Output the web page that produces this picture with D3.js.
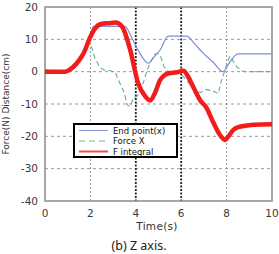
<!DOCTYPE html>
<html><head><meta charset="utf-8">
<script src="https://cdn.jsdelivr.net/npm/d3@7"></script>
<style>html,body{margin:0;padding:0;background:#fff;}svg{display:block;}</style>
</head><body>
<svg id="c" width="279" height="254"></svg>
<script>
const xTicks = [0, 2, 4, 6, 8, 10];
const yTicks = [20, 10, 0, -10, -20, -30, -40];
const legendLabels = ["End point(x)", "Force X", "F integral"];

const endTime = [0, 1.0, 1.3, 1.6, 1.9, 2.15, 2.4, 3.0, 3.52, 3.8, 4.1, 4.55, 4.8, 5.07, 5.43, 5.7, 6.24, 6.6, 7.0, 7.4, 7.85, 8.1, 8.5, 10];
const endVal  = [0, 0, 1, 4, 9, 14, 14, 14, 14, 10.8, 6.7, 2.6, 4.5, 6.7, 11, 11, 11, 8.5, 5.5, 3, 0, 2.5, 5.5, 5.5];

const forceTime = [0, 1.0, 1.5, 1.9, 2.05, 2.2, 2.4, 2.6, 2.9, 3.1, 3.3, 3.5, 3.62, 3.75, 3.9, 4.05, 4.2, 4.35, 4.5, 4.63, 4.8, 4.95, 5.1, 5.25, 5.45, 5.8, 5.95, 6.24, 6.53, 6.83, 7.1, 7.4, 7.63, 7.78, 7.93, 8.07, 8.15, 8.3, 8.45, 8.65, 8.8, 10];
const forceVal  = [0.5, 0, 3, 9, 7.7, 4.1, 1.5, 0.5, 0.3, -0.3, -3.6, -6.7, -10.3, -10.8, -8, -7.7, -6, -3, 0.5, 2.6, 5.2, 5.7, 4.6, 1.5, 0, 0, -0.5, -2.6, -5.5, -6.5, -5.5, -6, -6.8, -2.6, 0.5, 3.6, 4.8, 3.1, 1.5, 0.3, 0, 0];

const intTime = [0, 0.9, 1.2, 1.5, 1.7, 2.0, 2.2, 2.5, 2.8, 3.1, 3.4, 3.75, 4.1, 4.4, 4.63, 4.85, 5.07, 5.25, 5.45, 5.8, 6.1, 6.3, 6.55, 6.85, 7.1, 7.4, 7.7, 7.93, 8.1, 8.3, 8.5, 8.75, 9.2, 10];
const intVal  = [0, 0, 1.2, 3.5, 5.7, 10.8, 13.3, 14.8, 15, 15.2, 13.9, 6.8, -3.5, -7.5, -8.9, -6.5, -2.6, -1.2, -0.5, -0.2, 0.3, -1.5, -5, -9, -11, -15.5, -19.5, -21.1, -19.8, -18, -17.2, -16.8, -16.4, -16.3];

const svg = d3.select("#c");
const L = 45, R = 272, T = 7, B = 201;
const x = d3.scaleLinear().domain([0, 10]).range([L, R]);
const y = d3.scaleLinear().domain([-40, 20]).range([B, T]);
const font = "DejaVu Sans, sans-serif";

// grid
svg.append("g").selectAll("line").data(yTicks.filter(d => d > -40 && d < 20)).join("line")
  .attr("x1", L).attr("x2", R).attr("y1", d => y(d)).attr("y2", d => y(d))
  .attr("stroke", "#9a9a9a").attr("stroke-width", 1).attr("stroke-dasharray", "3,3");
svg.append("g").selectAll("line").data(xTicks.filter(d => d > 0 && d < 10)).join("line")
  .attr("y1", T).attr("y2", B).attr("x1", d => x(d)).attr("x2", d => x(d))
  .attr("stroke", d => (d === 4 || d === 6) ? "#222" : "#9a9a9a")
  .attr("stroke-width", d => (d === 4 || d === 6) ? 1.8 : 1)
  .attr("stroke-dasharray", d => (d === 4 || d === 6) ? "2,1.5" : "2,2");

// frame
svg.append("rect").attr("x", L).attr("y", T).attr("width", R - L).attr("height", B - T)
  .attr("fill", "none").attr("stroke", "#8a8a8a").attr("stroke-width", 1.5);

// tick labels
svg.append("g").selectAll("text").data(yTicks).join("text")
  .attr("x", 38).attr("y", d => y(d) + 3.5).attr("text-anchor", "end")
  .attr("font-family", font).attr("font-size", 10.5).attr("fill", "#3a3a3a").text(d => d);
svg.append("g").selectAll("text").data(xTicks).join("text")
  .attr("x", d => x(d)).attr("y", 217).attr("text-anchor", "middle")
  .attr("font-family", font).attr("font-size", 10.5).attr("fill", "#3a3a3a").text(d => d);

svg.append("text").attr("x", 157).attr("y", 230).attr("text-anchor", "middle")
  .attr("font-family", font).attr("font-size", 10.5).attr("letter-spacing", 0.3).attr("fill", "#333").text("Time(s)");
svg.append("text").attr("transform", "translate(9,104) rotate(-90)").attr("text-anchor", "middle")
  .attr("font-family", font).attr("font-size", 9).attr("fill", "#333").text("Force(N) Distance(cm)");
svg.append("text").attr("x", 139).attr("y", 250).attr("text-anchor", "middle")
  .attr("font-family", "Noto Sans, sans-serif").attr("font-size", 12.5).attr("fill", "#222").text("(b) Z axis.");

const mk = (t, v) => t.map((d, i) => [d, v[i]]);
const line = d3.line().x(d => x(d[0])).y(d => y(d[1]));
const smooth = d3.line().x(d => x(d[0])).y(d => y(d[1])).curve(d3.curveMonotoneX);

const g = svg.append("g");
g.append("path").datum(mk(forceTime, forceVal)).attr("d", line)
  .attr("fill", "none").attr("stroke", "#62b189").attr("stroke-width", 1.1).attr("stroke-dasharray", "5,3");
g.append("path").datum(mk(endTime, endVal)).attr("d", smooth)
  .attr("fill", "none").attr("stroke", "#7d90d6").attr("stroke-width", 1.2);
g.append("path").datum(mk(intTime, intVal)).attr("d", smooth)
  .attr("fill", "none").attr("stroke", "#f21c1c").attr("stroke-width", 4.5).attr("stroke-linejoin", "round");

// legend
const lg = svg.append("g");
lg.append("rect").attr("x", 74).attr("y", 124).attr("width", 103).attr("height", 33)
  .attr("fill", "#fff").attr("stroke", "#000").attr("stroke-width", 2);
const legColors = ["#8a9ad8", "#6cb88f", "#f04a4a"];
const legDash = [null, "6,4", null];
const legW = [1, 1, 2];
legendLabels.forEach((lab, i) => {
  const yy = 130.5 + i * 10.5;
  lg.append("line").attr("x1", 79).attr("x2", 108).attr("y1", yy).attr("y2", yy)
    .attr("stroke", legColors[i]).attr("stroke-width", legW[i]).attr("stroke-dasharray", legDash[i]);
  lg.append("text").attr("x", 113).attr("y", yy + 3).attr("font-family", font).attr("font-size", 8.5)
    .attr("fill", "#111").text(lab);
});
</script>
</body></html>
